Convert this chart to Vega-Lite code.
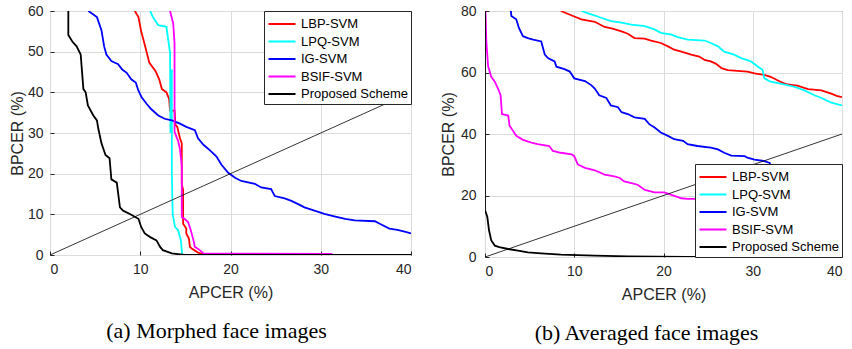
{
  "$schema": "https://vega.github.io/schema/vega-lite/v6.json",
  "background": "white",
  "padding": {"left": 8, "top": 3, "right": 5, "bottom": 0},
  "spacing": 27,
  "config": {
    "view": {"stroke": "#262626", "strokeWidth": 1},
    "font": "Liberation Sans",
    "axis": {
      "domain": false,
      "gridColor": "#dcdcdc",
      "gridWidth": 1,
      "labelFont": "Liberation Sans",
      "labelFontSize": 14,
      "labelColor": "#262626",
      "titleFont": "Liberation Sans",
      "titleFontSize": 16,
      "titleFontWeight": "normal",
      "titleColor": "#262626",
      "tickColor": "#262626",
      "tickSize": -4,
      "labelPadding": 11,
      "titlePadding": 8
    },
    "axisY": {"titlePadding": 2},
    "legend": {
      "strokeColor": "#262626",
      "fillColor": "white",
      "padding": 3,
      "offset": 0,
      "symbolType": "M-1.5,0H1.5",
      "symbolStrokeWidth": 2,
      "symbolSize": 324,
      "symbolOffset": 5,
      "labelFont": "Liberation Sans",
      "labelFontSize": 13,
      "labelColor": "#000000",
      "rowPadding": 0.5,
      "labelOffset": 9
    },
    "title": {"font": "Liberation Serif", "fontSize": 22, "fontWeight": "normal", "color": "#000000", "orient": "bottom", "offset": 21}
  },
  "resolve": {"scale": {"color": "independent"}, "legend": {"color": "independent"}},
  "datasets": {
    "diag": [{"x": 0, "y": 0}, {"x": 40, "y": 40}],
    "a": [
      {"s": "LBP-SVM", "x": 9.4, "y": 60}, {"s": "LBP-SVM", "x": 9.8, "y": 58.5}, {"s": "LBP-SVM", "x": 10.1, "y": 55}, {"s": "LBP-SVM", "x": 10.5, "y": 51.7}, {"s": "LBP-SVM", "x": 11, "y": 47.3}, {"s": "LBP-SVM", "x": 11.7, "y": 45.2}, {"s": "LBP-SVM", "x": 12.1, "y": 43.2}, {"s": "LBP-SVM", "x": 12.4, "y": 40.8}, {"s": "LBP-SVM", "x": 12.9, "y": 40}, {"s": "LBP-SVM", "x": 13.2, "y": 38.4}, {"s": "LBP-SVM", "x": 13.3, "y": 35.5}, {"s": "LBP-SVM", "x": 13.8, "y": 35.5}, {"s": "LBP-SVM", "x": 13.9, "y": 32}, {"s": "LBP-SVM", "x": 14.1, "y": 31.5}, {"s": "LBP-SVM", "x": 14.4, "y": 28.7}, {"s": "LBP-SVM", "x": 14.6, "y": 27.5}, {"s": "LBP-SVM", "x": 14.6, "y": 17.4}, {"s": "LBP-SVM", "x": 14.75, "y": 16}, {"s": "LBP-SVM", "x": 14.75, "y": 7.7}, {"s": "LBP-SVM", "x": 15.1, "y": 6.5}, {"s": "LBP-SVM", "x": 15.1, "y": 5.3}, {"s": "LBP-SVM", "x": 15.4, "y": 4}, {"s": "LBP-SVM", "x": 15.5, "y": 2}, {"s": "LBP-SVM", "x": 15.7, "y": 1.6}, {"s": "LBP-SVM", "x": 16.4, "y": 0.6}, {"s": "LBP-SVM", "x": 17.2, "y": 0}, {"s": "LBP-SVM", "x": 40, "y": 0},
      {"s": "LPQ-SVM", "x": 11.1, "y": 60}, {"s": "LPQ-SVM", "x": 11.4, "y": 58.5}, {"s": "LPQ-SVM", "x": 12, "y": 56.5}, {"s": "LPQ-SVM", "x": 12.9, "y": 56.1}, {"s": "LPQ-SVM", "x": 13.1, "y": 52.9}, {"s": "LPQ-SVM", "x": 13.3, "y": 49.7}, {"s": "LPQ-SVM", "x": 13.5, "y": 45.6}, {"s": "LPQ-SVM", "x": 13.5, "y": 40}, {"s": "LPQ-SVM", "x": 13.4, "y": 34}, {"s": "LPQ-SVM", "x": 13.35, "y": 30}, {"s": "LPQ-SVM", "x": 13.5, "y": 20}, {"s": "LPQ-SVM", "x": 13.6, "y": 10}, {"s": "LPQ-SVM", "x": 13.85, "y": 6.9}, {"s": "LPQ-SVM", "x": 14.2, "y": 6.1}, {"s": "LPQ-SVM", "x": 14.5, "y": 3.6}, {"s": "LPQ-SVM", "x": 14.65, "y": 0}, {"s": "LPQ-SVM", "x": 40, "y": 0},
      {"s": "IG-SVM", "x": 4.25, "y": 60}, {"s": "IG-SVM", "x": 5.2, "y": 58.5}, {"s": "IG-SVM", "x": 5.7, "y": 55.3}, {"s": "IG-SVM", "x": 6, "y": 51.3}, {"s": "IG-SVM", "x": 6.25, "y": 49.3}, {"s": "IG-SVM", "x": 6.8, "y": 47.7}, {"s": "IG-SVM", "x": 7.55, "y": 46.9}, {"s": "IG-SVM", "x": 8, "y": 45.6}, {"s": "IG-SVM", "x": 8.5, "y": 44.8}, {"s": "IG-SVM", "x": 9, "y": 43.2}, {"s": "IG-SVM", "x": 9.5, "y": 42.4}, {"s": "IG-SVM", "x": 9.8, "y": 40.4}, {"s": "IG-SVM", "x": 10.15, "y": 38.8}, {"s": "IG-SVM", "x": 10.7, "y": 37.2}, {"s": "IG-SVM", "x": 11.2, "y": 35.9}, {"s": "IG-SVM", "x": 12, "y": 34.3}, {"s": "IG-SVM", "x": 12.7, "y": 33.5}, {"s": "IG-SVM", "x": 13.5, "y": 33.1}, {"s": "IG-SVM", "x": 14.4, "y": 32.3}, {"s": "IG-SVM", "x": 15.1, "y": 31.5}, {"s": "IG-SVM", "x": 16.05, "y": 30.7}, {"s": "IG-SVM", "x": 16.4, "y": 28.7}, {"s": "IG-SVM", "x": 17, "y": 27.1}, {"s": "IG-SVM", "x": 17.7, "y": 25.8}, {"s": "IG-SVM", "x": 18.45, "y": 24.2}, {"s": "IG-SVM", "x": 19, "y": 22.2}, {"s": "IG-SVM", "x": 19.75, "y": 20.2}, {"s": "IG-SVM", "x": 20.5, "y": 19}, {"s": "IG-SVM", "x": 21.2, "y": 18.2}, {"s": "IG-SVM", "x": 22.7, "y": 17.5}, {"s": "IG-SVM", "x": 23.4, "y": 16.6}, {"s": "IG-SVM", "x": 24.5, "y": 16.2}, {"s": "IG-SVM", "x": 24.9, "y": 14.5}, {"s": "IG-SVM", "x": 26, "y": 13.9}, {"s": "IG-SVM", "x": 26.75, "y": 13.3}, {"s": "IG-SVM", "x": 27.5, "y": 12.5}, {"s": "IG-SVM", "x": 28.2, "y": 11.7}, {"s": "IG-SVM", "x": 29.3, "y": 10.9}, {"s": "IG-SVM", "x": 30.4, "y": 10.1}, {"s": "IG-SVM", "x": 31.5, "y": 9.5}, {"s": "IG-SVM", "x": 32.7, "y": 8.9}, {"s": "IG-SVM", "x": 33.75, "y": 8.5}, {"s": "IG-SVM", "x": 36, "y": 8.3}, {"s": "IG-SVM", "x": 36.7, "y": 7.5}, {"s": "IG-SVM", "x": 37.6, "y": 6.5}, {"s": "IG-SVM", "x": 38.5, "y": 6.2}, {"s": "IG-SVM", "x": 39.4, "y": 5.7}, {"s": "IG-SVM", "x": 40, "y": 5.3},
      {"s": "BSIF-SVM", "x": 13.3, "y": 60}, {"s": "BSIF-SVM", "x": 13.65, "y": 57}, {"s": "BSIF-SVM", "x": 13.8, "y": 52}, {"s": "BSIF-SVM", "x": 13.8, "y": 30.3}, {"s": "BSIF-SVM", "x": 14.2, "y": 28}, {"s": "BSIF-SVM", "x": 14.4, "y": 26}, {"s": "BSIF-SVM", "x": 14.6, "y": 22}, {"s": "BSIF-SVM", "x": 14.6, "y": 9.3}, {"s": "BSIF-SVM", "x": 14.9, "y": 8.9}, {"s": "BSIF-SVM", "x": 15.3, "y": 8.1}, {"s": "BSIF-SVM", "x": 15.6, "y": 6.1}, {"s": "BSIF-SVM", "x": 15.9, "y": 3.6}, {"s": "BSIF-SVM", "x": 16.05, "y": 2}, {"s": "BSIF-SVM", "x": 16.6, "y": 1.2}, {"s": "BSIF-SVM", "x": 17, "y": 0.4}, {"s": "BSIF-SVM", "x": 31.2, "y": 0.3}, {"s": "BSIF-SVM", "x": 31.3, "y": 0}, {"s": "BSIF-SVM", "x": 40, "y": 0},
      {"s": "Proposed Scheme", "x": 2.03, "y": 60}, {"s": "Proposed Scheme", "x": 2.03, "y": 54.1}, {"s": "Proposed Scheme", "x": 2.47, "y": 52.5}, {"s": "Proposed Scheme", "x": 2.95, "y": 51.3}, {"s": "Proposed Scheme", "x": 3.4, "y": 49.3}, {"s": "Proposed Scheme", "x": 3.7, "y": 40.8}, {"s": "Proposed Scheme", "x": 3.95, "y": 40}, {"s": "Proposed Scheme", "x": 4.2, "y": 36.8}, {"s": "Proposed Scheme", "x": 4.8, "y": 34.3}, {"s": "Proposed Scheme", "x": 5.2, "y": 33.1}, {"s": "Proposed Scheme", "x": 5.35, "y": 31.1}, {"s": "Proposed Scheme", "x": 5.7, "y": 27.5}, {"s": "Proposed Scheme", "x": 6.15, "y": 24.6}, {"s": "Proposed Scheme", "x": 6.6, "y": 23.8}, {"s": "Proposed Scheme", "x": 6.8, "y": 18.6}, {"s": "Proposed Scheme", "x": 7.4, "y": 17.8}, {"s": "Proposed Scheme", "x": 7.75, "y": 11.7}, {"s": "Proposed Scheme", "x": 8.1, "y": 10.9}, {"s": "Proposed Scheme", "x": 8.85, "y": 10.1}, {"s": "Proposed Scheme", "x": 9.8, "y": 8.9}, {"s": "Proposed Scheme", "x": 10.1, "y": 6.9}, {"s": "Proposed Scheme", "x": 10.5, "y": 5.3}, {"s": "Proposed Scheme", "x": 11.1, "y": 4.4}, {"s": "Proposed Scheme", "x": 11.8, "y": 3.6}, {"s": "Proposed Scheme", "x": 12.2, "y": 2}, {"s": "Proposed Scheme", "x": 12.5, "y": 1.2}, {"s": "Proposed Scheme", "x": 13.5, "y": 0.4}, {"s": "Proposed Scheme", "x": 14.9, "y": 0}, {"s": "Proposed Scheme", "x": 40, "y": 0}
    ],
    "b": [
      {"s": "LBP-SVM", "x": 8.5, "y": 80}, {"s": "LBP-SVM", "x": 10, "y": 78.2}, {"s": "LBP-SVM", "x": 10.8, "y": 77.3}, {"s": "LBP-SVM", "x": 12.3, "y": 76.5}, {"s": "LBP-SVM", "x": 13.4, "y": 74.8}, {"s": "LBP-SVM", "x": 14.3, "y": 74.3}, {"s": "LBP-SVM", "x": 15.3, "y": 73.4}, {"s": "LBP-SVM", "x": 16, "y": 72.6}, {"s": "LBP-SVM", "x": 16.75, "y": 71.2}, {"s": "LBP-SVM", "x": 17.9, "y": 71}, {"s": "LBP-SVM", "x": 18.6, "y": 70.4}, {"s": "LBP-SVM", "x": 19.7, "y": 69.6}, {"s": "LBP-SVM", "x": 20.5, "y": 68.5}, {"s": "LBP-SVM", "x": 21.2, "y": 67.4}, {"s": "LBP-SVM", "x": 22, "y": 66.8}, {"s": "LBP-SVM", "x": 23.1, "y": 65.8}, {"s": "LBP-SVM", "x": 24, "y": 65.2}, {"s": "LBP-SVM", "x": 24.6, "y": 64.1}, {"s": "LBP-SVM", "x": 25.3, "y": 63.6}, {"s": "LBP-SVM", "x": 25.9, "y": 62.8}, {"s": "LBP-SVM", "x": 26.5, "y": 61.4}, {"s": "LBP-SVM", "x": 27.2, "y": 60.8}, {"s": "LBP-SVM", "x": 29.4, "y": 60.3}, {"s": "LBP-SVM", "x": 30.2, "y": 59.7}, {"s": "LBP-SVM", "x": 31.3, "y": 59.2}, {"s": "LBP-SVM", "x": 32, "y": 58.6}, {"s": "LBP-SVM", "x": 33.1, "y": 57}, {"s": "LBP-SVM", "x": 33.9, "y": 56.1}, {"s": "LBP-SVM", "x": 35, "y": 55.7}, {"s": "LBP-SVM", "x": 36.2, "y": 54.6}, {"s": "LBP-SVM", "x": 37.7, "y": 54.2}, {"s": "LBP-SVM", "x": 38.8, "y": 53.1}, {"s": "LBP-SVM", "x": 39.4, "y": 52.4}, {"s": "LBP-SVM", "x": 40, "y": 52},
      {"s": "LPQ-SVM", "x": 10.8, "y": 80}, {"s": "LPQ-SVM", "x": 11.9, "y": 78.9}, {"s": "LPQ-SVM", "x": 13, "y": 77.8}, {"s": "LPQ-SVM", "x": 14.1, "y": 76.7}, {"s": "LPQ-SVM", "x": 15.3, "y": 76.2}, {"s": "LPQ-SVM", "x": 16.4, "y": 75.6}, {"s": "LPQ-SVM", "x": 17.9, "y": 75.1}, {"s": "LPQ-SVM", "x": 19, "y": 74}, {"s": "LPQ-SVM", "x": 19.7, "y": 72.9}, {"s": "LPQ-SVM", "x": 20.9, "y": 72.3}, {"s": "LPQ-SVM", "x": 21.6, "y": 71.5}, {"s": "LPQ-SVM", "x": 22.7, "y": 70.7}, {"s": "LPQ-SVM", "x": 24.6, "y": 70.4}, {"s": "LPQ-SVM", "x": 25.3, "y": 69.6}, {"s": "LPQ-SVM", "x": 26.1, "y": 68.5}, {"s": "LPQ-SVM", "x": 26.8, "y": 66.8}, {"s": "LPQ-SVM", "x": 27.9, "y": 65.8}, {"s": "LPQ-SVM", "x": 28.7, "y": 64.7}, {"s": "LPQ-SVM", "x": 29.8, "y": 63.6}, {"s": "LPQ-SVM", "x": 30.6, "y": 61.9}, {"s": "LPQ-SVM", "x": 31.1, "y": 60.8}, {"s": "LPQ-SVM", "x": 31.3, "y": 58.1}, {"s": "LPQ-SVM", "x": 32, "y": 57}, {"s": "LPQ-SVM", "x": 33.5, "y": 56.1}, {"s": "LPQ-SVM", "x": 34.7, "y": 55.3}, {"s": "LPQ-SVM", "x": 35.8, "y": 54.2}, {"s": "LPQ-SVM", "x": 36.9, "y": 52.6}, {"s": "LPQ-SVM", "x": 37.7, "y": 51.7}, {"s": "LPQ-SVM", "x": 38.8, "y": 50.2}, {"s": "LPQ-SVM", "x": 40, "y": 49.3},
      {"s": "IG-SVM", "x": 2.9, "y": 80}, {"s": "IG-SVM", "x": 2.95, "y": 78.4}, {"s": "IG-SVM", "x": 3.5, "y": 77.3}, {"s": "IG-SVM", "x": 3.8, "y": 74.5}, {"s": "IG-SVM", "x": 4.25, "y": 71.8}, {"s": "IG-SVM", "x": 4.8, "y": 71.2}, {"s": "IG-SVM", "x": 5.4, "y": 70.7}, {"s": "IG-SVM", "x": 6.3, "y": 70.1}, {"s": "IG-SVM", "x": 6.5, "y": 68}, {"s": "IG-SVM", "x": 6.7, "y": 65.8}, {"s": "IG-SVM", "x": 7.05, "y": 64.7}, {"s": "IG-SVM", "x": 7.8, "y": 63.6}, {"s": "IG-SVM", "x": 8, "y": 61.9}, {"s": "IG-SVM", "x": 8.9, "y": 61.1}, {"s": "IG-SVM", "x": 9.5, "y": 60.3}, {"s": "IG-SVM", "x": 10, "y": 58.1}, {"s": "IG-SVM", "x": 11.2, "y": 57.2}, {"s": "IG-SVM", "x": 11.9, "y": 55.9}, {"s": "IG-SVM", "x": 12.3, "y": 54.8}, {"s": "IG-SVM", "x": 12.8, "y": 52.6}, {"s": "IG-SVM", "x": 13.6, "y": 51.7}, {"s": "IG-SVM", "x": 14.1, "y": 49.3}, {"s": "IG-SVM", "x": 14.9, "y": 48.7}, {"s": "IG-SVM", "x": 15.3, "y": 47.1}, {"s": "IG-SVM", "x": 16, "y": 46.5}, {"s": "IG-SVM", "x": 16.75, "y": 45.4}, {"s": "IG-SVM", "x": 17.9, "y": 44.9}, {"s": "IG-SVM", "x": 18.4, "y": 43.2}, {"s": "IG-SVM", "x": 19, "y": 42.1}, {"s": "IG-SVM", "x": 19.7, "y": 40.5}, {"s": "IG-SVM", "x": 20.5, "y": 39.4}, {"s": "IG-SVM", "x": 21.2, "y": 38.3}, {"s": "IG-SVM", "x": 22.2, "y": 37.8}, {"s": "IG-SVM", "x": 22.7, "y": 36.7}, {"s": "IG-SVM", "x": 23.8, "y": 36.1}, {"s": "IG-SVM", "x": 25.3, "y": 35.6}, {"s": "IG-SVM", "x": 26.1, "y": 35}, {"s": "IG-SVM", "x": 26.8, "y": 33.9}, {"s": "IG-SVM", "x": 27.6, "y": 33}, {"s": "IG-SVM", "x": 29.1, "y": 32.8}, {"s": "IG-SVM", "x": 29.4, "y": 32.3}, {"s": "IG-SVM", "x": 30.2, "y": 31.7}, {"s": "IG-SVM", "x": 31.3, "y": 31.2}, {"s": "IG-SVM", "x": 31.9, "y": 30.6}, {"s": "IG-SVM", "x": 32, "y": 29.5}, {"s": "IG-SVM", "x": 35, "y": 26}, {"s": "IG-SVM", "x": 40, "y": 22},
      {"s": "BSIF-SVM", "x": 0.05, "y": 80}, {"s": "BSIF-SVM", "x": 0.15, "y": 70}, {"s": "BSIF-SVM", "x": 0.35, "y": 62}, {"s": "BSIF-SVM", "x": 0.7, "y": 58.6}, {"s": "BSIF-SVM", "x": 1.1, "y": 57}, {"s": "BSIF-SVM", "x": 1.45, "y": 54.8}, {"s": "BSIF-SVM", "x": 1.75, "y": 52.6}, {"s": "BSIF-SVM", "x": 1.9, "y": 46.5}, {"s": "BSIF-SVM", "x": 2.6, "y": 46}, {"s": "BSIF-SVM", "x": 2.75, "y": 42.7}, {"s": "BSIF-SVM", "x": 3.15, "y": 41}, {"s": "BSIF-SVM", "x": 3.5, "y": 39.4}, {"s": "BSIF-SVM", "x": 4.25, "y": 38.1}, {"s": "BSIF-SVM", "x": 5.2, "y": 37.2}, {"s": "BSIF-SVM", "x": 5.9, "y": 36.7}, {"s": "BSIF-SVM", "x": 7.2, "y": 36.1}, {"s": "BSIF-SVM", "x": 7.6, "y": 34.5}, {"s": "BSIF-SVM", "x": 8.5, "y": 33.9}, {"s": "BSIF-SVM", "x": 9.7, "y": 33.4}, {"s": "BSIF-SVM", "x": 10, "y": 32.8}, {"s": "BSIF-SVM", "x": 10.4, "y": 30.1}, {"s": "BSIF-SVM", "x": 11.2, "y": 29}, {"s": "BSIF-SVM", "x": 12.3, "y": 28.2}, {"s": "BSIF-SVM", "x": 13.4, "y": 26.8}, {"s": "BSIF-SVM", "x": 14.5, "y": 26.2}, {"s": "BSIF-SVM", "x": 15.1, "y": 25.7}, {"s": "BSIF-SVM", "x": 15.6, "y": 24.6}, {"s": "BSIF-SVM", "x": 16.4, "y": 24}, {"s": "BSIF-SVM", "x": 17.1, "y": 23.5}, {"s": "BSIF-SVM", "x": 17.9, "y": 21.8}, {"s": "BSIF-SVM", "x": 19, "y": 21}, {"s": "BSIF-SVM", "x": 20.1, "y": 21}, {"s": "BSIF-SVM", "x": 20.9, "y": 20.2}, {"s": "BSIF-SVM", "x": 22, "y": 19.1}, {"s": "BSIF-SVM", "x": 22.7, "y": 18.9}, {"s": "BSIF-SVM", "x": 24, "y": 18.9}, {"s": "BSIF-SVM", "x": 26, "y": 17}, {"s": "BSIF-SVM", "x": 30, "y": 15}, {"s": "BSIF-SVM", "x": 35, "y": 12}, {"s": "BSIF-SVM", "x": 40, "y": 10},
      {"s": "Proposed Scheme", "x": 0, "y": 80}, {"s": "Proposed Scheme", "x": 0, "y": 15.3}, {"s": "Proposed Scheme", "x": 0.26, "y": 13}, {"s": "Proposed Scheme", "x": 0.45, "y": 8.7}, {"s": "Proposed Scheme", "x": 0.7, "y": 5.4}, {"s": "Proposed Scheme", "x": 1.1, "y": 3.7}, {"s": "Proposed Scheme", "x": 1.6, "y": 3.2}, {"s": "Proposed Scheme", "x": 2.6, "y": 2.6}, {"s": "Proposed Scheme", "x": 3.7, "y": 2.1}, {"s": "Proposed Scheme", "x": 4.8, "y": 1.5}, {"s": "Proposed Scheme", "x": 6.3, "y": 1.2}, {"s": "Proposed Scheme", "x": 8.5, "y": 0.8}, {"s": "Proposed Scheme", "x": 12.3, "y": 0.45}, {"s": "Proposed Scheme", "x": 16, "y": 0.2}, {"s": "Proposed Scheme", "x": 22.7, "y": 0}, {"s": "Proposed Scheme", "x": 40, "y": 0}
    ]
  },
  "hconcat": [
    {
      "width": 361,
      "height": 244,
      "title": {"text": "(a) Morphed face images", "dx": -14},
      "layer": [
        {
          "data": {"name": "a"},
          "mark": {"type": "line", "strokeWidth": 1.8, "clip": true},
          "encoding": {
            "x": {"field": "x", "type": "quantitative", "scale": {"domain": [0, 40], "nice": false}, "axis": {"title": "APCER (%)", "values": [0, 10, 20, 30, 40]}},
            "y": {"field": "y", "type": "quantitative", "scale": {"domain": [0, 60], "nice": false}, "axis": {"title": "BPCER  (%)", "values": [0, 10, 20, 30, 40, 50, 60]}},
            "color": {"field": "s", "type": "nominal", "scale": {"domain": ["LBP-SVM", "LPQ-SVM", "IG-SVM", "BSIF-SVM", "Proposed Scheme"], "range": ["#ff0000", "#00ffff", "#0000ff", "#ff00ff", "#000000"]}, "legend": {"title": null, "orient": "top-right"}},
            "order": {"value": 0}
          }
        },
        {
          "data": {"name": "diag"},
          "mark": {"type": "line", "color": "#000000", "strokeWidth": 0.8, "clip": true},
          "encoding": {"x": {"field": "x", "type": "quantitative"}, "y": {"field": "y", "type": "quantitative"}}
        }
      ]
    },
    {
      "width": 357,
      "height": 246,
      "title": {"text": "(b) Averaged face images", "dx": -17},
      "layer": [
        {
          "data": {"name": "b"},
          "mark": {"type": "line", "strokeWidth": 1.8, "clip": true},
          "encoding": {
            "x": {"field": "x", "type": "quantitative", "scale": {"domain": [0, 40], "nice": false}, "axis": {"title": "APCER (%)", "values": [0, 10, 20, 30, 40]}},
            "y": {"field": "y", "type": "quantitative", "scale": {"domain": [0, 80], "nice": false}, "axis": {"title": "BPCER (%)", "values": [0, 20, 40, 60, 80], "labelPadding": 13, "titlePadding": 4}},
            "color": {"field": "s", "type": "nominal", "scale": {"domain": ["LBP-SVM", "LPQ-SVM", "IG-SVM", "BSIF-SVM", "Proposed Scheme"], "range": ["#ff0000", "#00ffff", "#0000ff", "#ff00ff", "#000000"]}, "legend": {"title": null, "orient": "bottom-right"}},
            "order": {"value": 0}
          }
        },
        {
          "data": {"name": "diag"},
          "mark": {"type": "line", "color": "#000000", "strokeWidth": 0.8, "clip": true},
          "encoding": {"x": {"field": "x", "type": "quantitative"}, "y": {"field": "y", "type": "quantitative"}}
        }
      ]
    }
  ]
}
